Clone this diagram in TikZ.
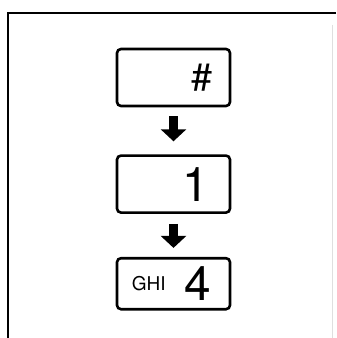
\documentclass[tikz,border=0pt]{standalone}
\usepackage{fontspec}
\setmainfont{TeX Gyre Heros}
\usepackage{tikz}
\usetikzlibrary{arrows.meta}
\usetikzlibrary{calc,positioning}

\tikzset{
    key/.style={draw, line width=0.13cm, rounded corners=0.2cm, minimum width=5.65cm, minimum height=2.85cm, inner sep=0pt},
    digit/.style={inner sep=0pt, font=\fontsize{68}{68}\selectfont},
    hash/.style={inner sep=0pt, font=\fontsize{54}{54}\selectfont},
    letters/.style={inner sep=0pt, font=\fontsize{27}{27}\selectfont},
    blockarrow/.style={line width=0.45cm, ->},
}

\begin{document}
\begin{tikzpicture}[>={Triangle[length=0.6cm,width=1.25cm]}]

    \useasboundingbox (0,0) rectangle (16.8,-16.9);

    % frame
    \draw[line width=0.1cm] (16.8,-0.65) -- (0.42,-0.65) -- (0.42,-16.9);
    \draw[gray!25, line width=0.05cm] (16.6,-1.25) -- (16.6,-16.9);

    % keys
    \node[key] (b1) at (8.675,-3.875) {};
    \node[key, below=2.35cm of b1] (b2) {};
    \node[key, below=2.15cm of b2, minimum height=2.55cm] (b3) {};

    \node[hash, left=0.95cm of b1.east] (k1) {\#};
    \node[digit, left=1.1cm of b2.east] (k2) {1};
    \node[digit, left=1.0cm of b3.east] (k3) {4};
    \node[letters, right=0.8cm of b3.west] (g3) {GHI};

    \draw[blockarrow, shorten <=0.45cm, shorten >=0.65cm] (b1) -- (b2);
    \draw[blockarrow, shorten <=0.5cm, shorten >=0.45cm] (b2) -- (b3);

\end{tikzpicture}
\end{document}
